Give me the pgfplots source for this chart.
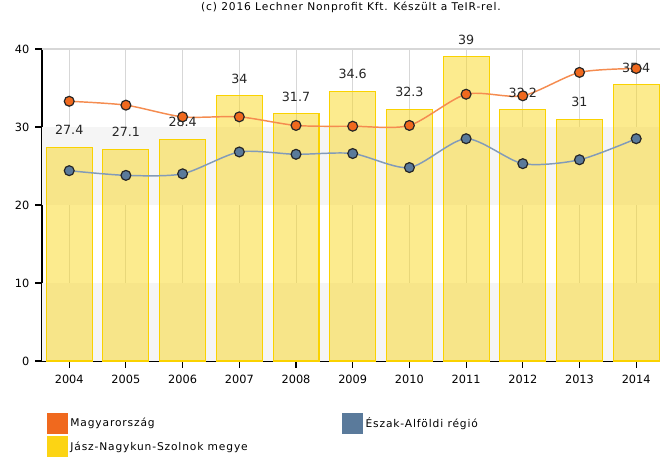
\documentclass[border=0pt]{standalone}
\usepackage{fontspec}
\setmainfont{DejaVu Sans}
\newfontfamily\spaced{DejaVu Sans}[LetterSpace=8]
\usepackage{pgfplots}
\usepackage{pgfplotstable}
\pgfplotsset{compat=1.18}

\definecolor{orline}{RGB}{245,140,80}
\definecolor{ormark}{RGB}{240,105,30}
\definecolor{blline}{RGB}{130,155,185}
\definecolor{blmark}{RGB}{90,122,155}
\definecolor{barfill}{RGB}{250,215,30}
\definecolor{bardraw}{RGB}{250,210,0}
\definecolor{legyel}{RGB}{252,212,20}
\definecolor{band}{RGB}{245,245,245}
\definecolor{gridc}{RGB}{215,215,215}

% bars: Jasz-Nagykun-Szolnok megye
\pgfplotstableread{
x  y
0  27.4
1  27.1
2  28.4
3  34
4  31.7
5  34.6
6  32.3
7  39
8  32.2
9  31
10 35.4
}\megye

\pgfplotstableread{
x  y
0  33.3
1  32.8
2  31.3
3  31.3
4  30.2
5  30.1
6  30.2
7  34.2
8  34.0
9  37.0
10 37.5
}\orszag

\pgfplotstableread{
x  y
0  24.4
1  23.8
2  24.0
3  26.8
4  26.5
5  26.6
6  24.8
7  28.5
8  25.3
9  25.8
10 28.5
}\regio

\begin{document}
\begin{tikzpicture}
\begin{axis}[
  set layers,
  scale only axis,
  width=463.5pt, height=234pt,
  xmin=-0.48, xmax=10.42,
  ymin=0, ymax=40,
  clip=false,
  axis x line*=bottom, axis y line*=left,
  axis line style={black, line width=1.1pt},
  xtick={0,...,10},
  xticklabels={2004,2005,2006,2007,2008,2009,2010,2011,2012,2013,2014},
  ytick={0,10,20,30,40},
  tick align=outside,
  major tick length=5pt,
  tick style={black, line width=0.8pt},
  xmajorgrids,
  major grid style={gridc, line width=0.7pt},
  /pgf/number format/assume math mode=true,
  tick label style={font=\fontsize{8.5}{10}\selectfont},
  xticklabel style={yshift=-2pt},
  yticklabel style={xshift=-1pt},
  title={(c) 2016 Lechner Nonprofit Kft. Készült a TeIR-rel.},
  title style={font=\spaced\fontsize{8}{9}\selectfont, at={(0.5,1)}, anchor=center, yshift=25.5pt},
  legend style={at={(0.008,-0.1667)}, anchor=north west, draw=none, fill=none,
    font=\spaced\fontsize{8}{9}\selectfont, inner sep=0pt, row sep=2pt,
    /tikz/column 2/.style={column sep=69pt}},
  legend columns=2,
  legend cell align=left,
]
\fill[band, on layer=axis background] (axis cs:-0.48,0) rectangle (axis cs:10.42,10);
\fill[band, on layer=axis background] (axis cs:-0.48,20) rectangle (axis cs:10.42,30);
\draw[gridc, line width=1pt] (rel axis cs:0,1) -- (rel axis cs:1,1);

\addplot[ybar, bar width=0.81, fill=barfill, fill opacity=0.5, draw=bardraw, line width=0.8pt,
  forget plot,
  nodes near coords, point meta=\thisrow{y},
  nodes near coords style={anchor=center, yshift=13pt, text opacity=1,
    font=\fontsize{9.5}{11}\selectfont, text=black!85}]
  table[x=x, y=y] {\megye};

\addplot[smooth, tension=0.45, color=orline, line width=1.1pt, forget plot,
  mark=*, mark size=3.7pt, mark options={fill=ormark, draw=black!85, line width=0.9pt}]
  table[x=x, y=y] {\orszag};

\addplot[smooth, tension=0.45, color=blline, line width=1.1pt, forget plot,
  mark=*, mark size=3.7pt, mark options={fill=blmark, draw=black!85, line width=0.9pt}]
  table[x=x, y=y] {\regio};

\addlegendimage{legend image code/.code={\fill[ormark] (0pt,-7.5pt) rectangle (15pt,7.5pt);}}
\addlegendentry{Magyarország}
\addlegendimage{legend image code/.code={\fill[blmark] (0pt,-7.5pt) rectangle (15pt,7.5pt);}}
\addlegendentry{Észak-Alföldi régió}
\addlegendimage{legend image code/.code={\fill[legyel] (0pt,-7.5pt) rectangle (15pt,7.5pt);}}
\addlegendentry{Jász-Nagykun-Szolnok megye}
\end{axis}
\pgfresetboundingbox
\path (-31.5pt,-72pt) rectangle (463.5pt,270.75pt);
\end{tikzpicture}
\end{document}
